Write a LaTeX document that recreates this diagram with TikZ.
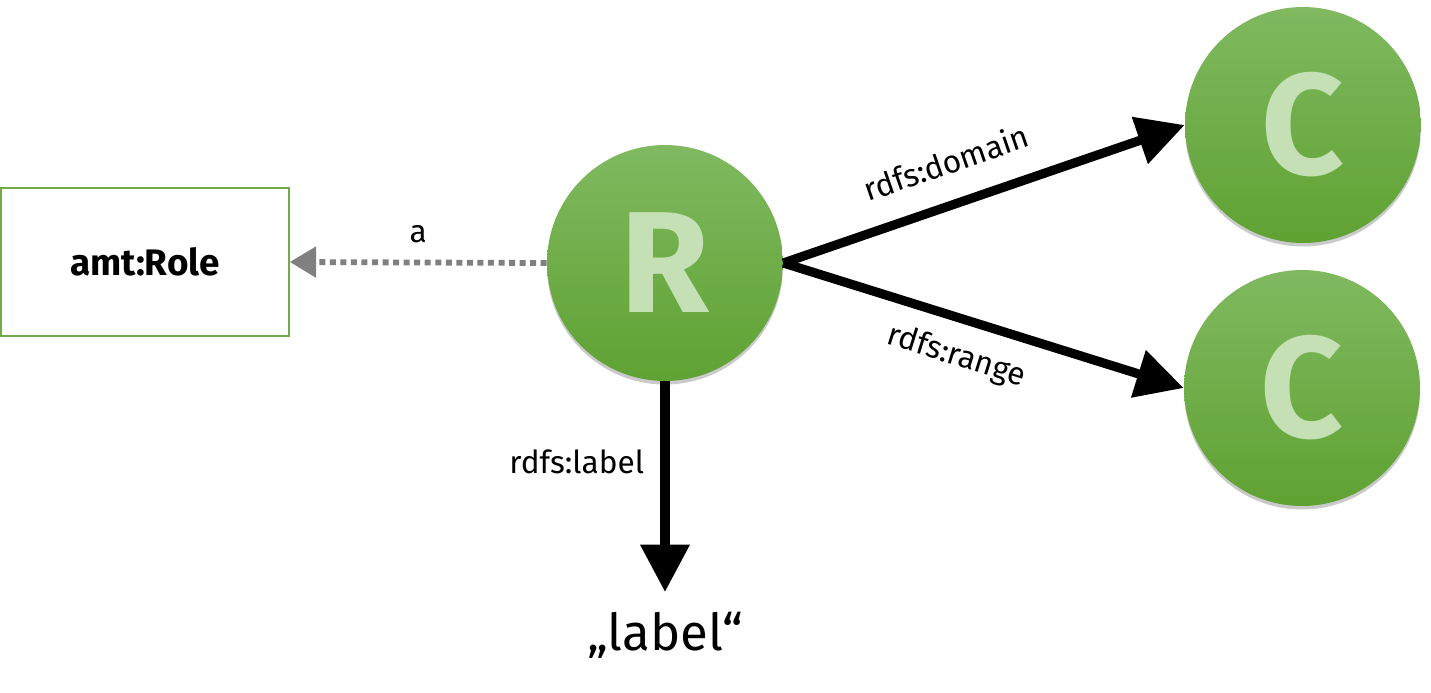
\documentclass[tikz,border=0pt]{standalone}
\usepackage{fontspec}
\setmainfont{Fira Sans}
\usepackage{tikz}
\usetikzlibrary{arrows.meta,positioning,shadows}
\definecolor{rolegreen}{HTML}{70AD47}
\definecolor{ctop}{HTML}{80B960}
\definecolor{cbot}{HTML}{5FA232}
\definecolor{cletter}{HTML}{C5E0B4}
\tikzset{
  res/.style={circle, minimum size=4.72cm, inner sep=0pt, top color=ctop, bottom color=cbot,
    draw=none, text=cletter, font=\fontsize{82}{82}\selectfont\bfseries,
    drop shadow={shadow xshift=0pt, shadow yshift=-2pt, opacity=0.35, fill=black!60}},
  classbox/.style={draw=rolegreen, line width=1.2pt, fill=white, minimum width=5.75cm,
    minimum height=2.95cm, font=\fontsize{21}{21}\selectfont\bfseries},
  arr/.style={-{Triangle[length=27pt,width=27pt]}, line width=5.2pt},
  typearr/.style={-{Triangle[length=15pt,width=17pt]}, draw=gray, line width=3.3pt,
    dash pattern=on 3.4pt off 2.6pt},
  elabel/.style={font=\fontsize{18}{18}\selectfont, text=black}
}
\begin{document}
\begin{tikzpicture}[x=0.02cm, y=-0.02cm]
  \useasboundingbox (0,0) rectangle (1431,693);

  \node[classbox] (role) at (145,262) {amt:Role};
  \node[res] (r) at (665,263) {R};
  \node[res] (cdom) at (1303,125) {C};
  \node[res] (cran) at (1302,388) {C};
  \node[font=\fontsize{29}{29}\selectfont] (lit) at (665,635) {„label“};
  \coordinate (tip) at (665,592);

  \draw[typearr] (r.west) -- node[above=6pt, elabel]{a} (role.east);
  \draw[arr] (r.east) -- node[sloped, above=11pt, pos=0.44, elabel]{rdfs:domain} (cdom.west);
  \draw[arr] (r.east) -- node[sloped, below=7pt, pos=0.46, elabel]{rdfs:range} (cran.west);
  \draw[arr] (r.south) -- node[left=6pt, pos=0.38, elabel]{rdfs:label} (tip);
\end{tikzpicture}
\end{document}
